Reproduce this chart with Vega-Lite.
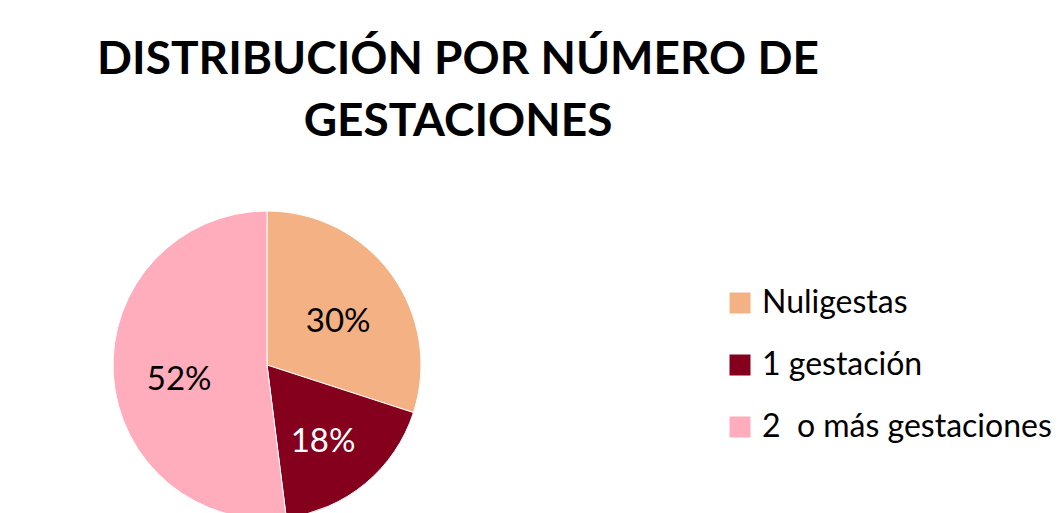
{
  "$schema": "https://vega.github.io/schema/vega-lite/v6.json",
  "autosize": {"type": "none"},
  "width": 308,
  "height": 296,
  "padding": {"left": 113, "top": 217, "right": 639, "bottom": 0},
  "background": "white",
  "title": {
    "text": ["DISTRIBUCIÓN POR NÚMERO DE", "GESTACIONES"],
    "anchor": "middle",
    "dx": 191,
    "font": "Lato",
    "fontSize": 46,
    "fontWeight": "bold",
    "color": "black",
    "lineHeight": 62,
    "baseline": "top",
    "offset": 63
  },
  "data": {
    "values": [
      {"orden": 1, "categoria": "Nuligestas", "valor": 0.30},
      {"orden": 2, "categoria": "1 gestación", "valor": 0.18},
      {"orden": 3, "categoria": "2 \u00a0o más gestaciones", "valor": 0.52}
    ]
  },
  "encoding": {
    "theta": {"field": "valor", "type": "quantitative", "stack": true},
    "order": {"field": "orden", "type": "quantitative", "sort": "ascending"},
    "color": {
      "field": "categoria",
      "type": "nominal",
      "sort": ["Nuligestas", "1 gestación", "2 \u00a0o más gestaciones"],
      "scale": {
        "domain": ["Nuligestas", "1 gestación", "2 \u00a0o más gestaciones"],
        "range": ["#F4B183", "#85001C", "#FFACBC"]
      },
      "legend": {
        "title": null,
        "orient": "none",
        "legendX": 611,
        "legendY": 70,
        "symbolType": "square",
        "symbolSize": 441,
        "symbolStrokeWidth": 0,
        "labelFont": "Lato",
        "labelFontSize": 32,
        "labelColor": "black",
        "labelOffset": 6,
        "rowPadding": 30,
        "labelLimit": 0
      }
    }
  },
  "layer": [
    {
      "mark": {"type": "arc", "outerRadius": 154, "stroke": "white", "strokeWidth": 1}
    },
    {
      "mark": {"type": "text", "radius": 88, "dy": 9, "font": "Lato", "fontSize": 33},
      "encoding": {
        "text": {"field": "valor", "type": "quantitative", "format": ".0%"},
        "color": {
          "condition": {"test": "datum.categoria === '1 gestación'", "value": "white"},
          "value": "black"
        }
      }
    }
  ],
  "config": {"view": {"stroke": null}}
}
